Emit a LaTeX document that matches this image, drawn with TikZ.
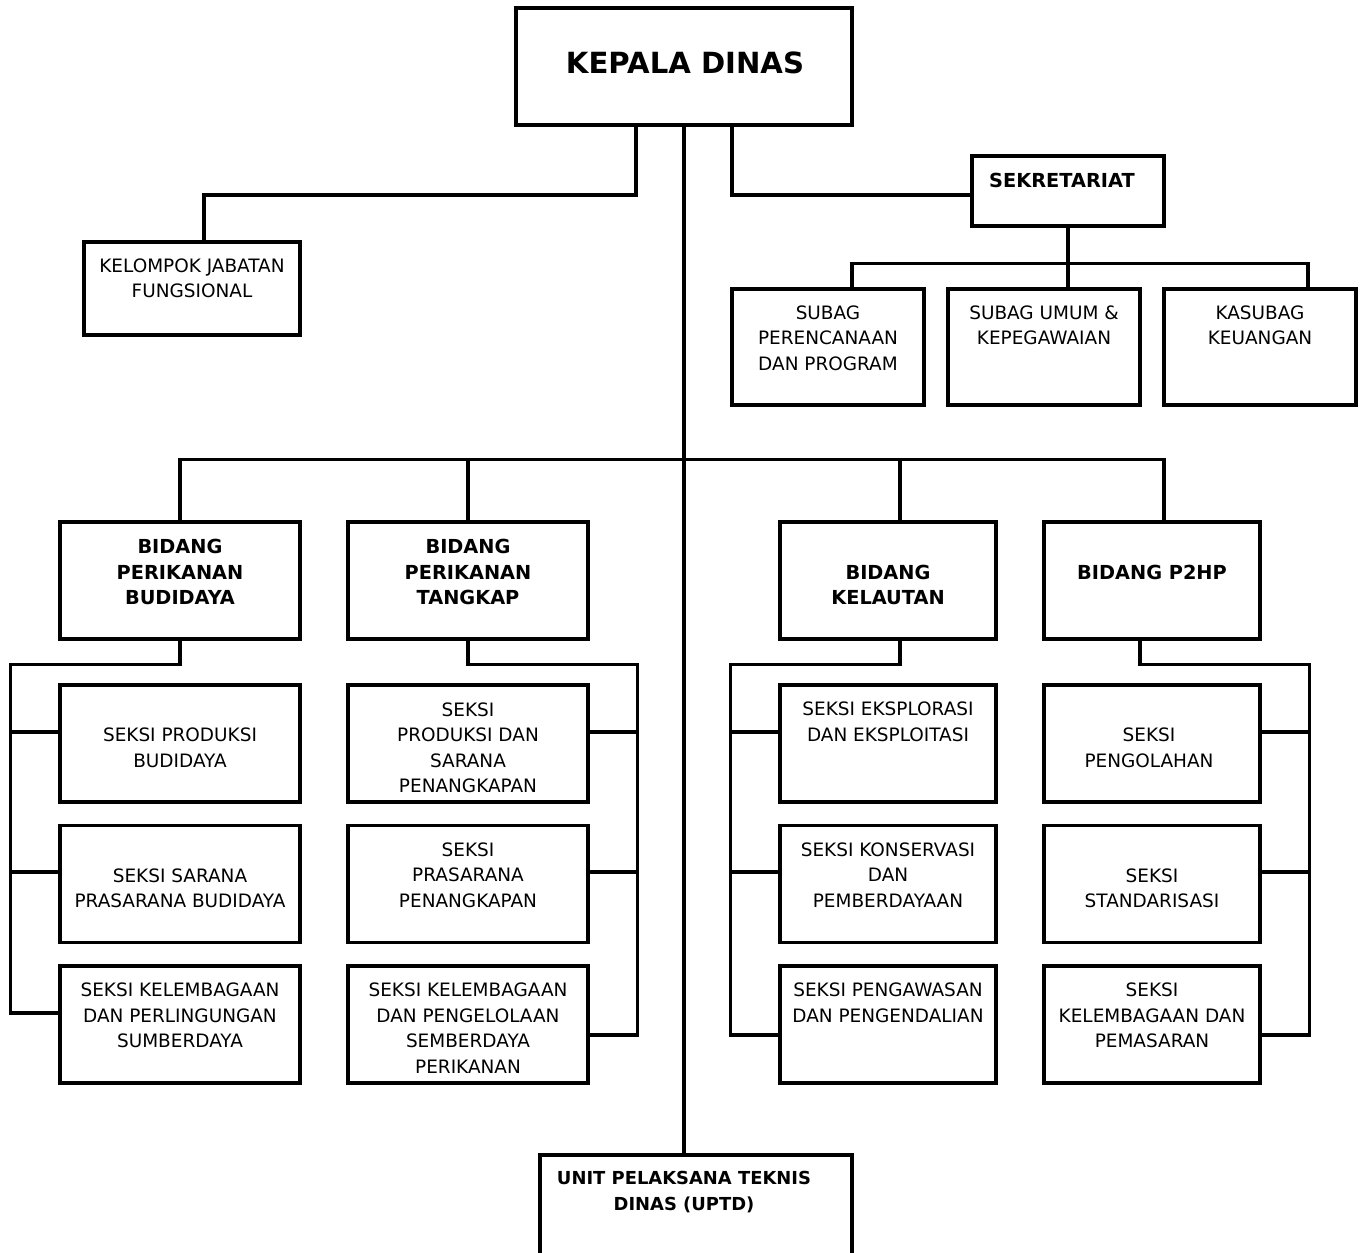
\documentclass[tikz,border=0pt]{standalone}
\usepackage{fontspec}
\setmainfont{DejaVu Sans}
\usetikzlibrary{positioning}

\begin{document}
\begin{tikzpicture}[x=0.02cm,y=-0.02cm,line width=1.8pt]
\tikzstyle{box}=[rectangle,draw,inner sep=0pt]
\tikzstyle{seksi}=[box,minimum width=4.8cm,minimum height=2.34cm]
\tikzstyle{seksikecil}=[box,minimum width=4.32cm,minimum height=2.34cm]
\tikzstyle{subag}=[box,minimum width=3.84cm,minimum height=2.32cm]
\tikzstyle{txt}=[align=center,inner sep=0pt,anchor=north,font=\fontsize{10.5}{14.5}\selectfont]
\tikzstyle{judul}=[txt,font=\fontsize{11}{14.5}\selectfont\bfseries]
\useasboundingbox (0,0) rectangle (1366,1252);

% kepala dinas dan staf
\node[box,minimum width=6.72cm,minimum height=2.34cm] (kadis) at (684,66.5) {};
\node[inner sep=0pt,font=\fontsize{16.6}{20}\selectfont\bfseries] (t-kadis) at (685,63) {KEPALA DINAS};
\node[box,minimum width=4.32cm,minimum height=1.86cm] (kjf) at (192,288.5) {};
\node[txt,below=0.33cm of kjf.north] (t-kjf) {KELOMPOK JABATAN\\FUNGSIONAL};
\node[box,minimum width=3.84cm,minimum height=1.4cm] (sekret) at (1068,191) {};
\node[judul,below=0.34cm of sekret.north,xshift=-0.12cm] (t-sekret) {SEKRETARIAT};
\node[subag] (sbrenc) at (828,347) {};
\node[txt,below=0.33cm of sbrenc.north] (t-sbrenc) {SUBAG\\PERENCANAAN\\DAN PROGRAM};
\node[subag] (sbumum) at (1044,347) {};
\node[txt,below=0.33cm of sbumum.north] (t-sbumum) {SUBAG UMUM \&\\KEPEGAWAIAN};
\node[subag] (ksbkeu) at (1260,347) {};
\node[txt,below=0.33cm of ksbkeu.north] (t-ksbkeu) {KASUBAG\\KEUANGAN};

% bidang
\node[seksi] (bdbudi) at (180,580.5) {};
\node[judul,below=0.35cm of bdbudi.north] (t-bdbudi) {BIDANG\\PERIKANAN\\BUDIDAYA};
\node[seksi] (bdtangkap) at (468,580.5) {};
\node[judul,below=0.35cm of bdtangkap.north] (t-bdtangkap) {BIDANG\\PERIKANAN\\TANGKAP};
\node[seksikecil] (bdkelaut) at (888,580.5) {};
\node[judul,below=0.86cm of bdkelaut.north] (t-bdkelaut) {BIDANG\\KELAUTAN};
\node[seksikecil] (bdpdhp) at (1152,580.5) {};
\node[judul,below=0.86cm of bdpdhp.north] (t-bdpdhp) {BIDANG P2HP};

% seksi budidaya
\node[seksi] (budi1) at (180,743.5) {};
\node[txt,below=0.86cm of budi1.north] (t-budi1) {SEKSI PRODUKSI\\BUDIDAYA};
\node[seksi] (budi2) at (180,884) {};
\node[txt,below=0.86cm of budi2.north] (t-budi2) {SEKSI SARANA\\PRASARANA BUDIDAYA};
\node[seksi] (budi3) at (180,1024.5) {};
\node[txt,below=0.34cm of budi3.north] (t-budi3) {SEKSI KELEMBAGAAN\\DAN PERLINGUNGAN\\SUMBERDAYA};

% seksi tangkap
\node[seksi] (tangk1) at (468,743.5) {};
\node[txt,below=0.35cm of tangk1.north] (t-tangk1) {SEKSI\\PRODUKSI DAN\\SARANA\\PENANGKAPAN};
\node[seksi] (tangk2) at (468,884) {};
\node[txt,below=0.34cm of tangk2.north] (t-tangk2) {SEKSI\\PRASARANA\\PENANGKAPAN};
\node[seksi] (tangk3) at (468,1024.5) {};
\node[txt,below=0.34cm of tangk3.north] (t-tangk3) {SEKSI KELEMBAGAAN\\DAN PENGELOLAAN\\SEMBERDAYA\\PERIKANAN};

% seksi kelautan
\node[seksikecil] (kelaut1) at (888,743.5) {};
\node[txt,below=0.34cm of kelaut1.north] (t-kelaut1) {SEKSI EKSPLORASI\\DAN EKSPLOITASI};
\node[seksikecil] (kelaut2) at (888,884) {};
\node[txt,below=0.34cm of kelaut2.north] (t-kelaut2) {SEKSI KONSERVASI\\DAN\\PEMBERDAYAAN};
\node[seksikecil] (kelaut3) at (888,1024.5) {};
\node[txt,below=0.34cm of kelaut3.north] (t-kelaut3) {SEKSI PENGAWASAN\\DAN PENGENDALIAN};

% seksi p2hp
\node[seksikecil] (pdhp1) at (1152,743.5) {};
\node[txt,below=0.86cm of pdhp1.north,xshift=-0.06cm] (t-pdhp1) {SEKSI\\PENGOLAHAN};
\node[seksikecil] (pdhp2) at (1152,884) {};
\node[txt,below=0.86cm of pdhp2.north] (t-pdhp2) {SEKSI\\STANDARISASI};
\node[seksikecil] (pdhp3) at (1152,1024.5) {};
\node[txt,below=0.34cm of pdhp3.north] (t-pdhp3) {SEKSI\\KELEMBAGAAN DAN\\PEMASARAN};

% uptd
\node[box,minimum width=6.24cm,minimum height=2.7cm] (uptd) at (696,1222.5) {};
\node[judul,font=\fontsize{10.2}{14.5}\selectfont\bfseries,below=0.33cm of uptd.north,xshift=-0.24cm] (t-uptd) {UNIT PELAKSANA TEKNIS\\DINAS (UPTD)};

% garis
\coordinate (kjfbus) at (204,195);
\draw (kadis.south) -- (kadis.south |- uptd.north);
\draw ([xshift=-0.96cm]kadis.south) |- (kjfbus) -- (kjfbus |- kjf.north);
\draw ([xshift=0.96cm]kadis.south) |- ([yshift=-0.08cm]sekret.west);
\draw (sekret.south) -- (sekret.south |- sbumum.north);
\draw ([xshift=0.48cm]sbrenc.north) -- ++(0,-24) -| ([xshift=0.96cm]ksbkeu.north);
\draw (bdbudi.north) -- ++(0,-61) -| ([xshift=0.24cm]bdpdhp.north);
\draw (bdtangkap.north) -- ++(0,-61);
\draw ([xshift=0.24cm]bdkelaut.north) -- ++(0,-61);

\draw (bdbudi.south) -- ++(0,24) -| ([xshift=-0.96cm,yshift=0.23cm]budi3.west) -- ([yshift=0.23cm]budi3.west);
\draw ([yshift=0.23cm]budi1.west) -- ++(-48,0);
\draw ([yshift=0.24cm]budi2.west) -- ++(-48,0);

\draw (bdtangkap.south) -- ++(0,24) -| ([xshift=0.96cm,yshift=-0.21cm]tangk3.east) -- ([yshift=-0.21cm]tangk3.east);
\draw ([yshift=0.23cm]tangk1.east) -- ++(48,0);
\draw ([yshift=0.24cm]tangk2.east) -- ++(48,0);

\draw ([xshift=0.24cm]bdkelaut.south) -- ++(0,24) -| ([xshift=-0.96cm,yshift=-0.21cm]kelaut3.west) -- ([yshift=-0.21cm]kelaut3.west);
\draw ([yshift=0.23cm]kelaut1.west) -- ++(-48,0);
\draw ([yshift=0.24cm]kelaut2.west) -- ++(-48,0);

\draw ([xshift=-0.24cm]bdpdhp.south) -- ++(0,24) -| ([xshift=0.96cm,yshift=-0.21cm]pdhp3.east) -- ([yshift=-0.21cm]pdhp3.east);
\draw ([yshift=0.23cm]pdhp1.east) -- ++(48,0);
\draw ([yshift=0.24cm]pdhp2.east) -- ++(48,0);
\end{tikzpicture}
\end{document}
